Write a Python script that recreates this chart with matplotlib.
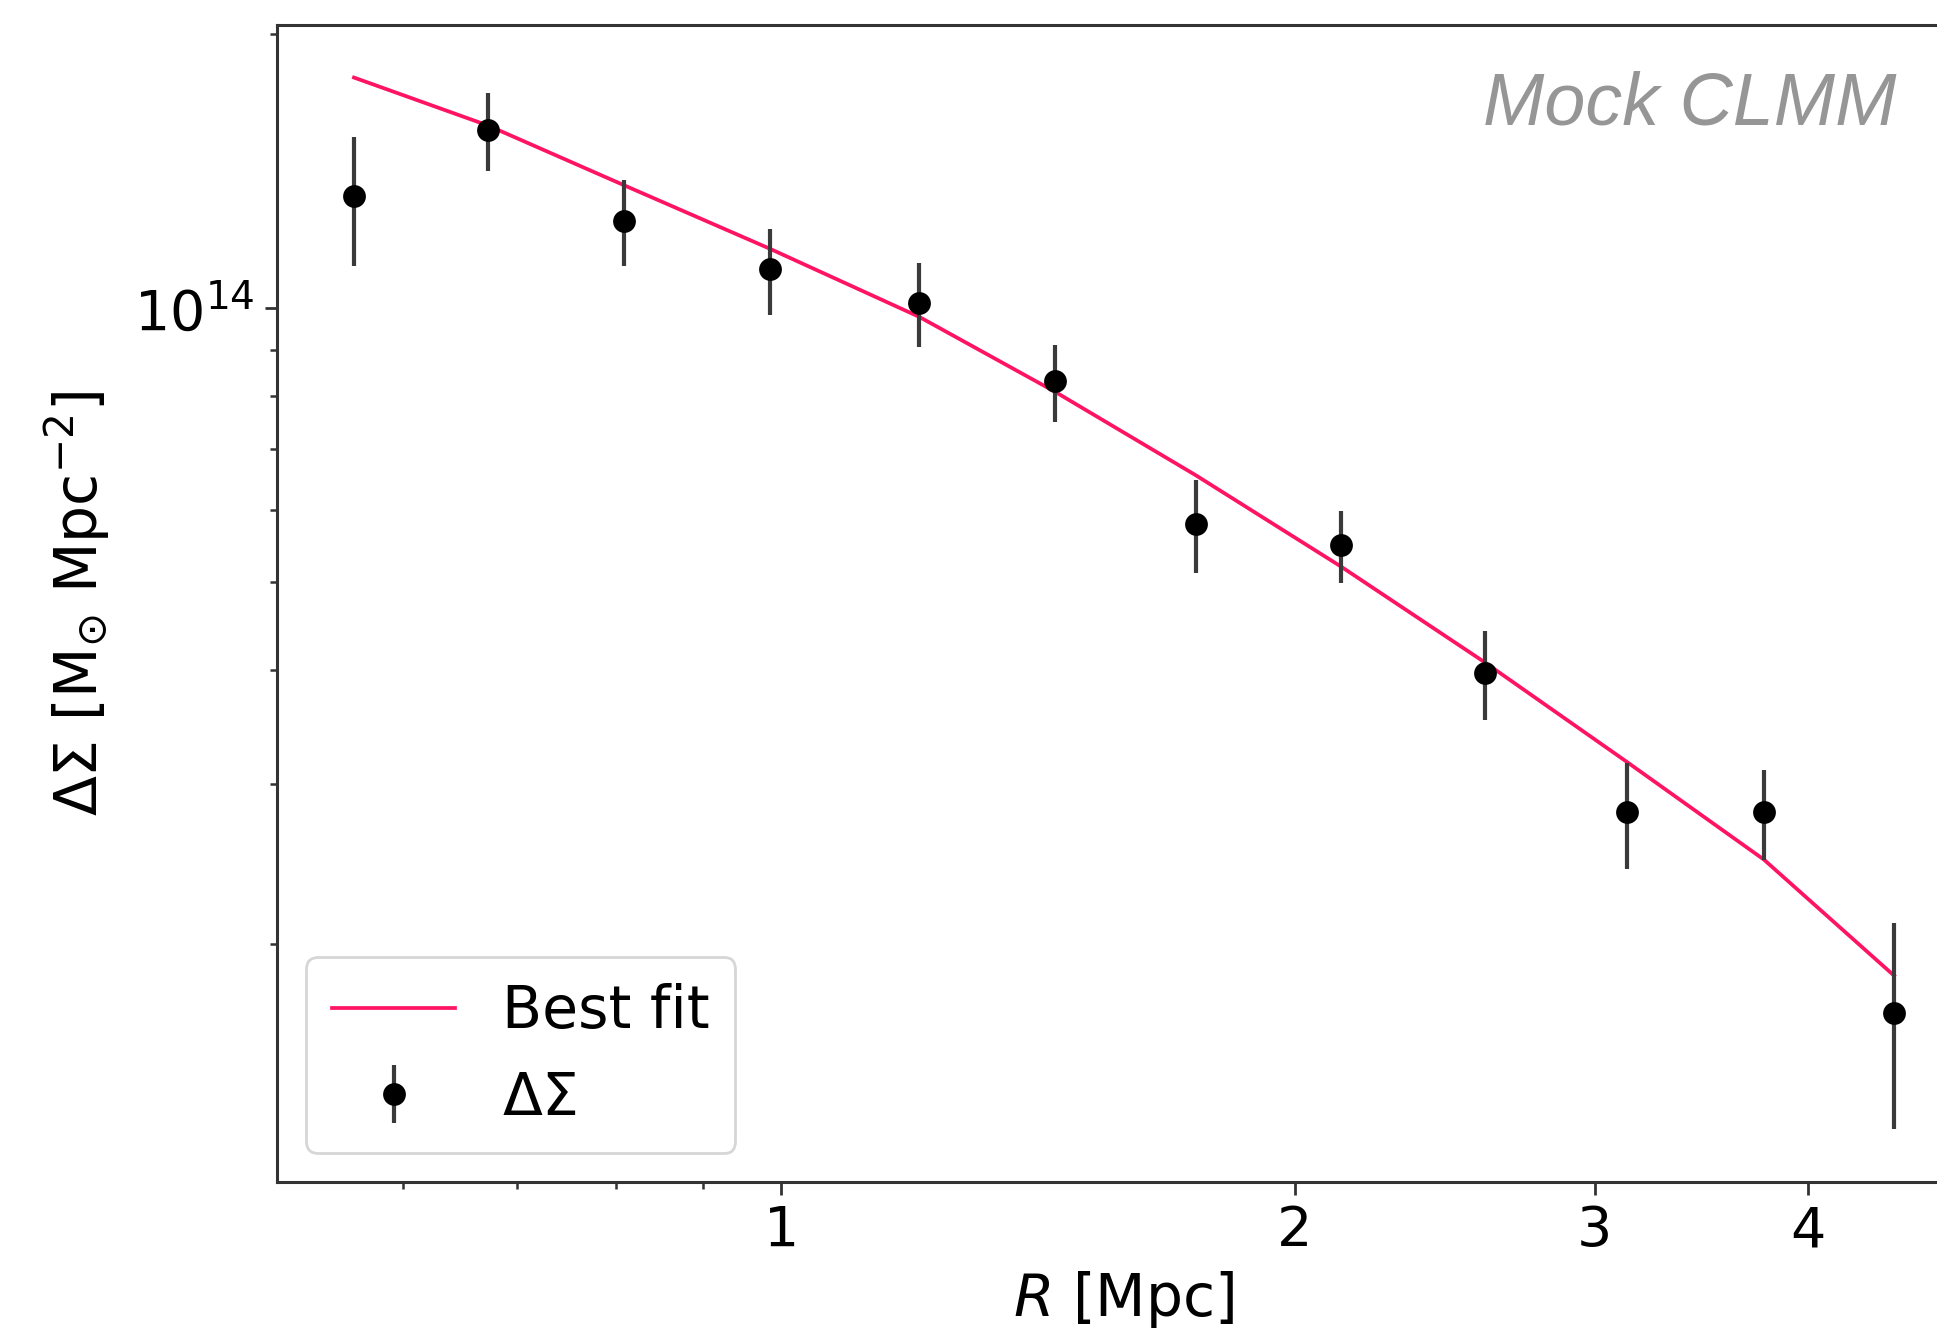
import matplotlib
matplotlib.use("Agg")
import matplotlib.pyplot as plt
from matplotlib.ticker import NullFormatter, FixedLocator, FixedFormatter

# ---- data ----
R_mpc = [0.5617, 0.6731, 0.8089, 0.9852, 1.2052, 1.4478,
         1.7504, 2.1289, 2.5852, 3.1326, 3.7696, 4.4938]
dsigma = [1.327e14, 1.570e14, 1.248e14, 1.103e14, 1.014e14, 8.31e13,
          5.79e13, 5.49e13, 3.97e13, 2.79e13, 2.79e13, 1.68e13]
dsigma_err = [2.14e13, 1.53e13, 1.35e13, 1.20e13, 1.07e13, 8.1e12,
              6.8e12, 5.0e12, 4.45e12, 3.75e12, 3.16e12, 4.3e12]
best_fit = [1.793e14, 1.588e14, 1.365e14, 1.162e14, 9.78e13, 8.09e13,
            6.55e13, 5.20e13, 4.08e13, 3.17e13, 2.475e13, 1.845e13]
x_tick_values = [1, 2, 3, 4]
x_tick_labels = ["1", "2", "3", "4"]

plt.rcParams['font.family'] = ['DejaVu Sans']
plt.rcParams['mathtext.fontset'] = 'dejavusans'

fig = plt.figure(figsize=(9.685, 6.675), dpi=200)
ax = fig.add_axes([0.1430, 0.1146, 0.8746, 0.8667])

ax.plot(R_mpc, best_fit, color='#ff1464', lw=1.35, label='Best fit', zorder=2)
ax.errorbar(R_mpc, dsigma, yerr=dsigma_err, fmt='o', color='k',
            ecolor='#3a3a3a', elinewidth=1.5, markersize=7.2,
            capsize=0, label=r'$\Delta\Sigma$', zorder=3)

ax.set_xscale('log')
ax.set_yscale('log')

ax.xaxis.set_major_locator(FixedLocator(x_tick_values))
ax.xaxis.set_major_formatter(FixedFormatter(x_tick_labels))
ax.xaxis.set_minor_formatter(NullFormatter())
ax.yaxis.set_minor_formatter(NullFormatter())

for sp in ax.spines.values():
    sp.set_linewidth(1.1)
    sp.set_color('#333333')
ax.tick_params(which='major', labelsize=20, length=4.5, width=1.0, color='#333333')
ax.tick_params(which='minor', length=2.6, width=0.9, color='#333333')

ax.set_xlabel(r'$R$ [Mpc]', fontsize=21, labelpad=4)
ax.set_ylabel(r'$\Delta\Sigma$ [M$_{\odot}$ Mpc$^{-2}$]', fontsize=21, labelpad=8)

leg = ax.legend(loc='lower left', fontsize=21, borderaxespad=0.5,
                handlelength=2.1, handletextpad=0.8, labelspacing=0.5,
                borderpad=0.45)
leg.get_frame().set_edgecolor('#cccccc')

fig.text(0.979, 0.907, 'Mock CLMM', ha='right', va='baseline',
         fontsize=26.5, style='italic', color='#969696',
         family=['Liberation Sans', 'DejaVu Sans'])

fig.savefig('out.png', dpi=200)
